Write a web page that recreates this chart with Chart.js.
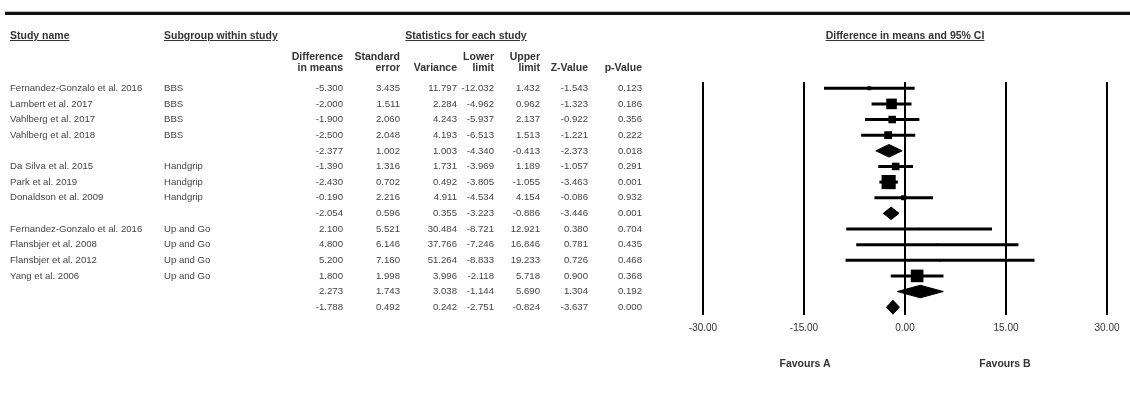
<!DOCTYPE html>
<html>
<head>
<meta charset="utf-8">
<script src="https://cdn.jsdelivr.net/npm/chart.js@4.4.0/dist/chart.umd.min.js"></script>
<style>
  body { margin: 0; background: #fff; }
  #page { position: relative; width: 1130px; height: 398px; overflow: hidden; font-family: "Liberation Sans", Arial, sans-serif; color: #444; }
  .t { position: absolute; font-size: 9.6px; line-height: 12px; white-space: nowrap; }
  .h { font-weight: bold; font-size: 10.5px; color: #333; }
  .u { text-decoration: underline; }
  #topRule { position: absolute; left: 5px; right: 0; top: 11px; height: 3px; background: #111; border-top: 1px solid #bbb; }
  #forest { position: absolute; left: 0; top: 0; }
</style>
</head>
<body>
<div id="page">
  <div id="topRule"></div>
  <canvas id="forest" width="1130" height="398"></canvas>
</div>
<script>
// rows of the table, top to bottom
const studyNames = [
  "Fernandez-Gonzalo et al. 2016", "Lambert et al. 2017", "Vahlberg et al. 2017", "Vahlberg et al. 2018", "",
  "Da Silva et al. 2015", "Park et al. 2019", "Donaldson et al. 2009", "",
  "Fernandez-Gonzalo et al. 2016", "Flansbjer et al. 2008", "Flansbjer et al. 2012", "Yang et al. 2006", "", ""
];
const subgroups = [
  "BBS", "BBS", "BBS", "BBS", "",
  "Handgrip", "Handgrip", "Handgrip", "",
  "Up and Go", "Up and Go", "Up and Go", "Up and Go", "", ""
];
const rowType = [
  "study", "study", "study", "study", "subtotal",
  "study", "study", "study", "subtotal",
  "study", "study", "study", "study", "subtotal", "overall"
];
const diffMeans  = [-5.300, -2.000, -1.900, -2.500, -2.377, -1.390, -2.430, -0.190, -2.054, 2.100, 4.800, 5.200, 1.800, 2.273, -1.788];
const stdErr     = [3.435, 1.511, 2.060, 2.048, 1.002, 1.316, 0.702, 2.216, 0.596, 5.521, 6.146, 7.160, 1.998, 1.743, 0.492];
const variance   = [11.797, 2.284, 4.243, 4.193, 1.003, 1.731, 0.492, 4.911, 0.355, 30.484, 37.766, 51.264, 3.996, 3.038, 0.242];
const lowerLimit = [-12.032, -4.962, -5.937, -6.513, -4.340, -3.969, -3.805, -4.534, -3.223, -8.721, -7.246, -8.833, -2.118, -1.144, -2.751];
const upperLimit = [1.432, 0.962, 2.137, 1.513, -0.413, 1.189, -1.055, 4.154, -0.886, 12.921, 16.846, 19.233, 5.718, 5.690, -0.824];
const zValue     = [-1.543, -1.323, -0.922, -1.221, -2.373, -1.057, -3.463, -0.086, -3.446, 0.380, 0.781, 0.726, 0.900, 1.304, -3.637];
const pValue     = [0.123, 0.186, 0.356, 0.222, 0.018, 0.291, 0.001, 0.932, 0.001, 0.704, 0.435, 0.468, 0.368, 0.192, 0.000];
// relative weight of each study (box size), 0 for pooled rows
const relWeight  = [6, 44, 22, 24, 0, 22, 78, 10, 0, 2, 2, 2, 62, 0, 0];

const xTicks = [-30, -15, 0, 15, 30];
const favourLabels = ["Favours A", "Favours B"];

const page = document.getElementById("page");

function addText(txt, x, y, cls, align) {
  const d = document.createElement("div");
  d.className = "t " + (cls || "");
  d.textContent = txt;
  d.style.top = (y - 6) + "px";
  if (align === "right") {
    d.style.right = (1130 - x) + "px";
  } else if (align === "center") {
    d.style.left = (x - 100) + "px";
    d.style.width = "200px";
    d.style.textAlign = "center";
  } else {
    d.style.left = x + "px";
  }
  page.appendChild(d);
}

// headers
addText("Study name", 10, 35, "h u");
addText("Subgroup within study", 164, 35, "h u");
addText("Statistics for each study", 466, 35, "h u", "center");
addText("Difference in means and 95% CI", 905, 35, "h u", "center");

const colRight = [343, 400, 457, 494, 540, 588, 642];
const colHead = [["Difference", "in means"], ["Standard", "error"], ["", "Variance"], ["Lower", "limit"], ["Upper", "limit"], ["", "Z-Value"], ["", "p-Value"]];
colHead.forEach((h, c) => {
  if (h[0]) addText(h[0], colRight[c], 56, "h", "right");
  addText(h[1], colRight[c], 67, "h", "right");
});

// table rows
const rowY = (i) => 88 + i * 15.64;
const columns = [diffMeans, stdErr, variance, lowerLimit, upperLimit, zValue, pValue];
studyNames.forEach((name, i) => {
  const y = rowY(i);
  if (name) addText(name, 10, y);
  if (subgroups[i]) addText(subgroups[i], 164, y);
  columns.forEach((col, c) => addText(col[i].toFixed(3), colRight[c], y, "", "right"));
});

addText(favourLabels[0], 805, 363, "h", "center");
addText(favourLabels[1], 1005, 363, "h", "center");

// forest plot
const datasets = [];
rowType.forEach((type, i) => {
  if (type === "study") {
    datasets.push({
      data: [{ x: lowerLimit[i], y: i }, { x: upperLimit[i], y: i }],
      showLine: true, borderColor: "#000", borderWidth: 3, pointRadius: 0,
    });
  } else {
    const h = type === "overall" ? 0.45 : 0.4;
    datasets.push({
      data: [
        { x: lowerLimit[i], y: i }, { x: diffMeans[i], y: i - h },
        { x: upperLimit[i], y: i }, { x: diffMeans[i], y: i + h },
        { x: lowerLimit[i], y: i },
      ],
      showLine: true, fill: "shape", backgroundColor: "#000",
      borderColor: "#000", borderWidth: 1, pointRadius: 0,
    });
  }
});
const studyRows = rowType.map((t, i) => i).filter((i) => rowType[i] === "study");
datasets.push({
  data: studyRows.map((i) => ({ x: diffMeans[i], y: i })),
  showLine: false,
  pointStyle: "rect",
  pointRadius: studyRows.map((i) => 1.6 * Math.sqrt(relWeight[i]) / Math.SQRT2),
  backgroundColor: "#000",
  borderColor: "#000",
  borderWidth: 0,
});

new Chart(document.getElementById("forest").getContext("2d"), {
  type: "scatter",
  data: { datasets: datasets },
  options: {
    responsive: false,
    animation: false,
    devicePixelRatio: 1,
    layout: { padding: { left: 703, right: 23, top: 82, bottom: 43 } },
    plugins: { legend: { display: false }, tooltip: { enabled: false } },
    scales: {
      x: {
        type: "linear",
        min: xTicks[0],
        max: xTicks[xTicks.length - 1],
        afterBuildTicks: (scale) => { scale.ticks = xTicks.map((v) => ({ value: v })); },
        afterFit: (scale) => { scale.height = 40; },
        ticks: {
          callback: (v) => v.toFixed(2),
          color: "#333",
          font: { family: "Liberation Sans", size: 10 },
          padding: 7,
          maxRotation: 0,
        },
        grid: { color: "#000", lineWidth: 2, drawTicks: false },
        border: { display: false },
      },
      y: {
        type: "linear",
        reverse: true,
        min: -0.4,
        max: 14.5,
        display: false,
      },
    },
  },
});
</script>
</body>
</html>
